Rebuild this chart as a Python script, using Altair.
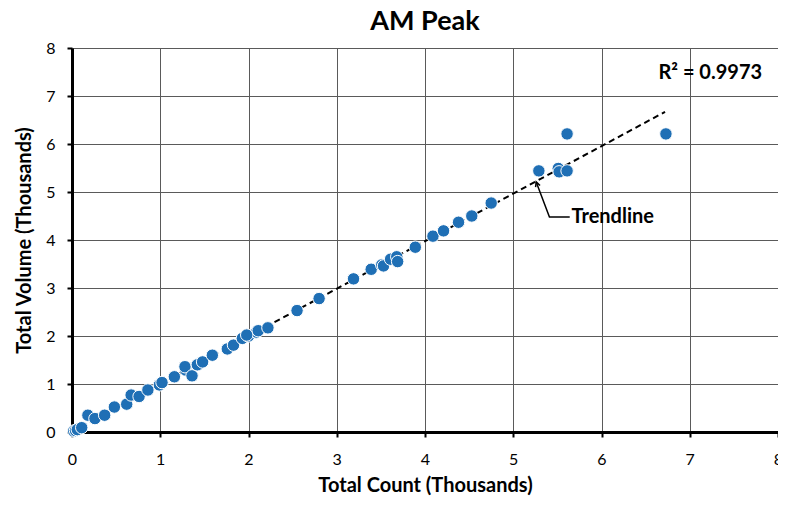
import altair as alt
import pandas as pd

# Observed points (thousands)
count_k = [0.02, 0.04, 0.06, 0.11, 0.18, 0.26, 0.37, 0.48, 0.62, 0.67, 0.76, 0.86,
           0.99, 1.02, 1.16, 1.29, 1.28, 1.36, 1.42, 1.48, 1.59, 1.76, 1.83, 1.93,
           2.00, 2.09, 1.98, 2.11, 2.22, 2.55, 2.80, 3.19, 3.39, 3.51, 3.53, 3.61,
           3.68, 3.69, 3.89, 4.09, 4.21, 4.38, 4.53, 4.75, 5.29, 5.51, 5.52, 5.61,
           5.61, 6.73]
volume_k = [0.02, 0.03, 0.05, 0.09, 0.35, 0.28, 0.35, 0.52, 0.58, 0.77, 0.74, 0.875,
            0.98, 1.03, 1.15, 1.29, 1.36, 1.17, 1.40, 1.46, 1.60, 1.73, 1.81, 1.95,
            2.00, 2.08, 2.02, 2.11, 2.17, 2.53, 2.78, 3.19, 3.39, 3.48, 3.46, 3.60,
            3.65, 3.55, 3.85, 4.08, 4.19, 4.37, 4.50, 4.77, 5.44, 5.49, 5.42, 5.44,
            6.21, 6.21]

ticks = [0, 1, 2, 3, 4, 5, 6, 7, 8]
trend_extent = [0, 6.72]
r2_label = "R² = 0.9973"
r2_pos = [7.82, 7.48]
trend_label = "Trendline"
trend_label_pos = [5.66, 4.48]
arrow_x = [5.64, 5.41, 5.26]
arrow_y = [4.48, 4.48, 5.21]

FONT = "Lato"
df = pd.DataFrame({"x": count_k, "y": volume_k})

xs = alt.Scale(domain=[0, 8], nice=False)
ys = alt.Scale(domain=[0, 8], nice=False)

common = dict(values=ticks, format="d", grid=True, gridColor="#5a5a5a", gridWidth=1,
              domainColor="black", domainWidth=3, tickColor="black", tickWidth=2,
              tickSize=5, labelFontSize=16, labelFont=FONT, titleFont=FONT,
              titleFontSize=20, titleFontWeight="bold", titleColor="black",
              labelColor="black", labelFlush=False)

xaxis = alt.Axis(title="Total Count (Thousands)", titlePadding=8, labelPadding=14, **common)
yaxis = alt.Axis(title="Total Volume (Thousands)", titlePadding=11, labelPadding=12, **common)

base = alt.Chart(df)

points = base.mark_circle(size=155, color="#1f6fb5", opacity=1, stroke="white",
                          strokeWidth=1).encode(
    x=alt.X("x:Q", scale=xs, axis=xaxis),
    y=alt.Y("y:Q", scale=ys, axis=yaxis),
)

trend = base.transform_regression("x", "y", extent=trend_extent).mark_line(
    color="black", strokeDash=[6, 4], strokeWidth=2).encode(
    x=alt.X("x:Q", scale=xs), y=alt.Y("y:Q", scale=ys))

r2 = alt.Chart(pd.DataFrame({"x": [r2_pos[0]], "y": [r2_pos[1]], "t": [r2_label]})).mark_text(
    align="right", baseline="middle", font=FONT, fontSize=20, fontWeight="bold",
    color="black").encode(x=alt.X("x:Q", scale=xs), y=alt.Y("y:Q", scale=ys), text="t:N")

tl = alt.Chart(pd.DataFrame({"x": [trend_label_pos[0]], "y": [trend_label_pos[1]],
                             "t": [trend_label]})).mark_text(
    align="left", baseline="middle", font=FONT, fontSize=20, fontWeight="bold",
    color="black").encode(x=alt.X("x:Q", scale=xs), y=alt.Y("y:Q", scale=ys), text="t:N")

arrow_df = pd.DataFrame({"x": arrow_x, "y": arrow_y, "o": [0, 1, 2]})
arrow_line = alt.Chart(arrow_df).mark_line(color="black", strokeWidth=1.5).encode(
    x=alt.X("x:Q", scale=xs), y=alt.Y("y:Q", scale=ys), order="o:Q")
arrow_head = alt.Chart(arrow_df.iloc[[2]]).mark_point(
    shape="M -0.5 1 L 0 0 L 0.5 1", filled=False, color="black", strokeWidth=1.5,
    size=90, angle=340, opacity=1).encode(
    x=alt.X("x:Q", scale=xs), y=alt.Y("y:Q", scale=ys))

chart = alt.layer(trend, points, r2, tl, arrow_line, arrow_head).properties(
    width=706, height=384,
    title=alt.TitleParams("AM Peak", font=FONT, fontSize=27, fontWeight="bold",
                          color="black", offset=4, anchor="middle"),
    autosize=alt.AutoSizeParams(type="none"),
    padding={"left": 64, "top": 40, "right": 0, "bottom": 65},
).configure_view(stroke=None).configure(background="white")

chart.save("out.html", embed_options={"renderer": "svg", "actions": False})
